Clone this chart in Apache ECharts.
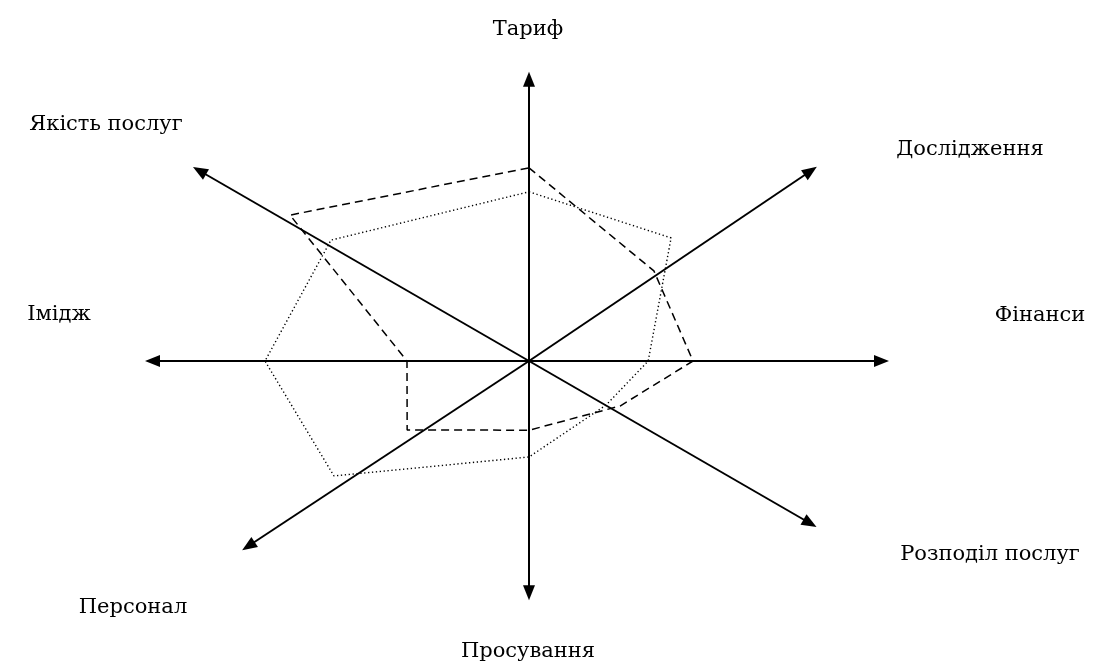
<!DOCTYPE html>
<html>
<head>
<meta charset="utf-8">
<title>Radar</title>
<script src="https://cdn.jsdelivr.net/npm/echarts@6/dist/echarts.min.js"></script>
<style>
  html, body {margin:0; padding:0; background:#fff;}
  #main {width:1098px; height:666px;}
</style>
</head>
<body>
<div id="main"></div>
<script>
// axes: name, direction (deg, counter-clockwise from east), length up to the arrow tip
var axisNames  = ['Тариф', 'Дослідження', 'Фінанси', 'Розподіл послуг', 'Просування', 'Персонал', 'Імідж', 'Якість послуг'];
var axisAngles = [90, 34, 0, 330, 270, 213.4, 180, 150];
var axisLength = [72.3, 86.8, 90, 83, 59.8, 85.9, 96, 97];

// dashed profile (radius, angle of each vertex)
var dashedR = [48.3, 38.5, 41, 25.4, 17.3, 35, 30.5, 70];
var dashedA = [90, 35.8, 0, 333.7, 270, 209.5, 180, 148.6];

// dotted profile
var dottedR = [42.3, 47, 29.8, 22.2, 24, 56.6, 66, 58];
var dottedA = [90, 40.9, 0, 330.3, 270, 210.5, 180, 148.6];

var chart = echarts.init(document.getElementById('main'));

var ARROW = [12, 15];          // px
var PX_PER_UNIT = 400 / 100;   // polar radius / radius max

function ring(r, a) {
  var pts = r.map(function (v, i) { return [v, a[i]]; });
  pts.push(pts[0]);
  return pts;
}

var series = [];
axisNames.forEach(function (name, i) {
  var a = axisAngles[i];
  series.push({
    type: 'line',
    coordinateSystem: 'polar',
    silent: true,
    symbol: 'none',
    lineStyle: {color: '#000', width: 2},
    data: [
      {value: [0, a], symbol: 'none'},
      {value: [axisLength[i] - ARROW[1] / 2 / PX_PER_UNIT, a],
       symbol: 'triangle', symbolSize: ARROW, symbolRotate: a - 90,
       itemStyle: {color: '#000'}}
    ]
  });
});

series.push({
  type: 'line', coordinateSystem: 'polar', silent: true, symbol: 'none',
  lineStyle: {color: '#000', width: 1.5, type: [8, 5]},
  data: ring(dashedR, dashedA)
});
series.push({
  type: 'line', coordinateSystem: 'polar', silent: true, symbol: 'none',
  lineStyle: {color: '#000', width: 1.4, type: [1.3, 2.6]},
  data: ring(dottedR, dottedA)
});

var labelAt = [[528, 30], [970, 150], [1040, 316], [990, 555], [528, 652], [133, 608], [59, 315], [106, 125]];

chart.setOption({
  animation: false,
  backgroundColor: '#fff',
  polar: {center: [529, 361], radius: 400},
  angleAxis: {
    type: 'value', min: 0, max: 360, startAngle: 0, clockwise: false,
    axisLine: {show: false}, axisTick: {show: false}, axisLabel: {show: false}, splitLine: {show: false}
  },
  radiusAxis: {
    type: 'value', min: 0, max: 100,
    axisLine: {show: false}, axisTick: {show: false}, axisLabel: {show: false}, splitLine: {show: false}
  },
  graphic: axisNames.map(function (n, i) {
    return {
      type: 'text', x: labelAt[i][0], y: labelAt[i][1], silent: true,
      style: {
        text: n, fill: '#000', font: '21px "DejaVu Serif"',
        align: 'center', verticalAlign: 'middle',
        textAlign: 'center', textVerticalAlign: 'middle'
      }
    };
  }),
  series: series
});
</script>
</body>
</html>
